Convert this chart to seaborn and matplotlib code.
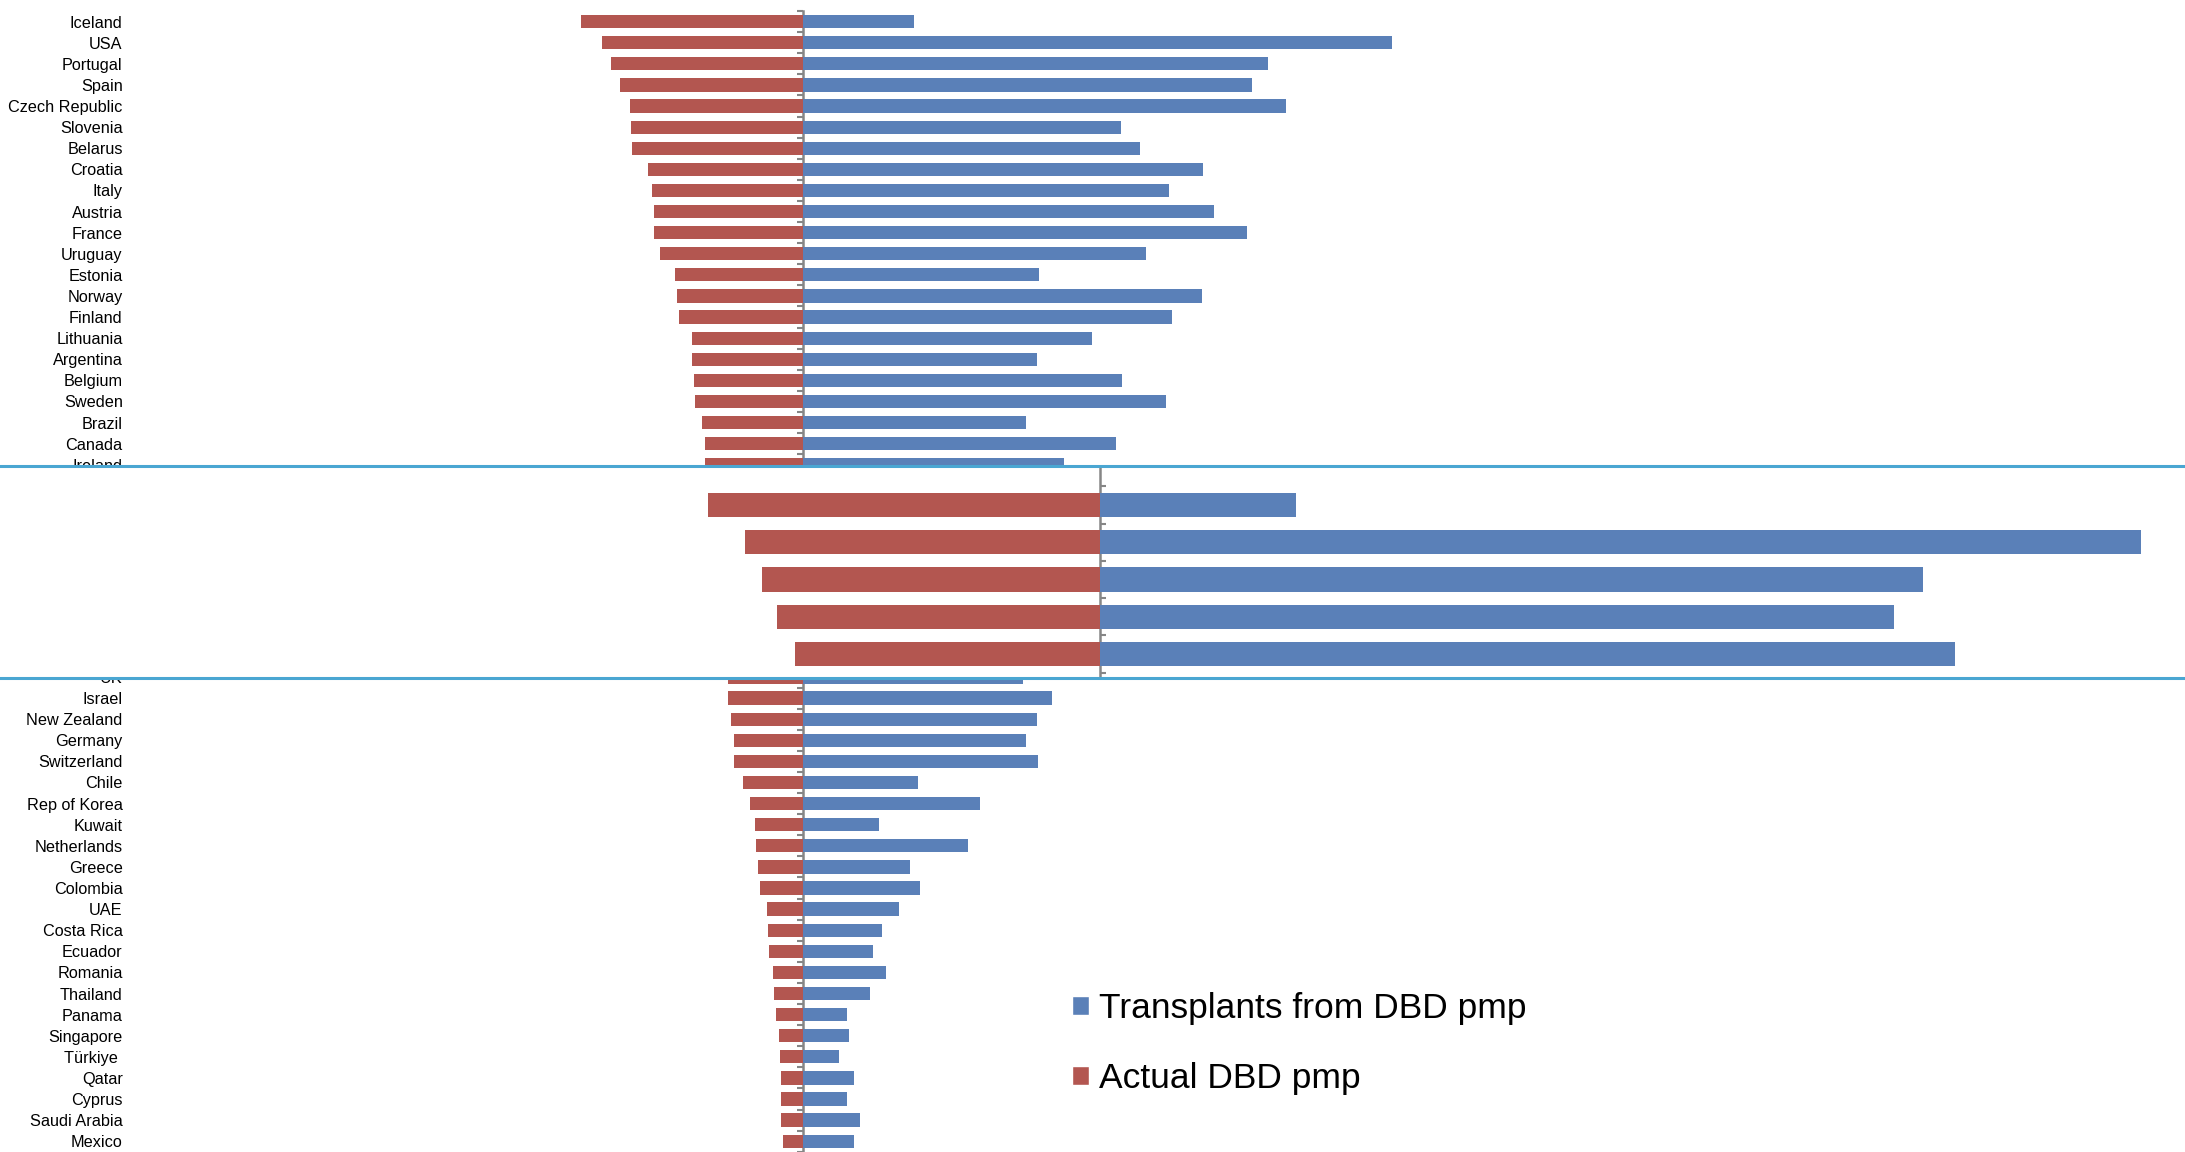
import matplotlib
matplotlib.use('Agg')
import matplotlib.pyplot as plt
import seaborn as sns
import pandas as pd
from matplotlib.patches import Patch

# países visíveis na parte de cima do gráfico
top_countries = ['Iceland', 'USA', 'Portugal', 'Spain', 'Czech Republic', 'Slovenia', 'Belarus',
                 'Croatia', 'Italy', 'Austria', 'France', 'Uruguay', 'Estonia', 'Norway', 'Finland',
                 'Lithuania', 'Argentina', 'Belgium', 'Sweden', 'Brazil', 'Canada', 'Ireland']
top_actual = [37.0, 33.5, 31.9, 30.5, 28.8, 28.6, 28.5, 25.7, 25.1, 24.8, 24.7, 23.8, 21.3, 21.0,
              20.6, 18.5, 18.4, 18.1, 18.0, 16.8, 16.3, 16.2]
top_transplants = [18.5, 98.2, 77.6, 74.9, 80.6, 53.0, 56.3, 66.8, 61.1, 68.5, 74.0, 57.2, 39.4,
                   66.6, 61.5, 48.2, 39.1, 53.2, 60.6, 37.3, 52.2, 43.6]

# países visíveis na parte de baixo
bottom_countries = ['UK', 'Israel', 'New Zealand', 'Germany', 'Switzerland', 'Chile', 'Rep of Korea',
                    'Kuwait', 'Netherlands', 'Greece', 'Colombia', 'UAE', 'Costa Rica', 'Ecuador',
                    'Romania', 'Thailand', 'Panama', 'Singapore', 'Türkiye ', 'Qatar', 'Cyprus',
                    'Saudi Arabia', 'Mexico']
bottom_actual = [12.4, 12.4, 12.0, 11.4, 11.4, 9.9, 8.8, 8.0, 7.7, 7.5, 7.1, 6.0, 5.7, 5.6, 5.0,
                 4.8, 4.5, 3.9, 3.7, 3.6, 3.6, 3.6, 3.3]
bottom_transplants = [36.7, 41.6, 39.0, 37.2, 39.3, 19.3, 29.5, 12.8, 27.6, 17.9, 19.5, 16.0, 13.2,
                      11.8, 13.9, 11.2, 7.4, 7.7, 6.0, 8.6, 7.4, 9.5, 8.6]

# zoom nos 5 primeiros
n_zoom = 5

BLUE = '#5A80B8'
RED = '#B35650'
GRAY = '#868686'
CYAN = '#4AA6D2'
lbl_blue = 'Transplants from DBD pmp'
lbl_red = 'Actual DBD pmp'

sns.set_style('white')
plt.rcParams['font.family'] = ['Liberation Sans', 'DejaVu Sans']


def monta_df(paises, actual, transp):
    d1 = pd.DataFrame({'pais': paises, 'valor': [-v for v in actual], 'serie': lbl_red})
    d2 = pd.DataFrame({'pais': paises, 'valor': transp, 'serie': lbl_blue})
    return pd.concat([d1, d2], ignore_index=True)


def desenha(ax, df, ordem, largura, ylim, labels=True):
    sns.barplot(data=df, x='valor', y='pais', hue='serie', order=ordem, dodge=False,
                palette={lbl_red: RED, lbl_blue: BLUE}, saturation=1, width=largura,
                errorbar=None, orient='h', linewidth=0, legend=False, ax=ax)
    ax.set_ylim(*ylim)
    ax.set_xlabel('')
    ax.set_ylabel('')
    ax.set_xticks([])
    for s in ax.spines.values():
        s.set_visible(False)
    ax.tick_params(axis='y', length=0, pad=6, labelsize=11.7, labelcolor='black')
    if not labels:
        ax.set_yticklabels([])
    # eixo vertical no zero com tracinhos entre as categorias
    x0, x1 = ax.get_xlim()
    sec = ax.secondary_yaxis(-x0 / (x1 - x0))
    sec.set_yticks([i - 0.5 for i in range(len(ordem) + 1)])
    sec.set_yticklabels([])
    sec.tick_params(axis='y', length=4, width=1.5, color=GRAY, direction='out')
    for s in sec.spines.values():
        s.set_color(GRAY)
        s.set_linewidth(1.8)
    return sec


fig = plt.figure(figsize=(21.85, 11.52), dpi=100)
W, H = 2185, 1152
left_px, zero_px, ppu = 131, 802.6, 6.0

# parte de cima
ax_top = fig.add_axes([left_px / W, 1 - 465 / H, 1 - left_px / W, (465 - 11.1) / H])
ax_top.set_xlim(-(zero_px - left_px) / ppu, (W - zero_px) / ppu)
desenha(ax_top, monta_df(top_countries, top_actual, top_transplants), top_countries, 0.63,
        ((465 - 11.1) / 21.1 - 0.5, -0.5))

# parte de baixo (UK fica meio escondido pela faixa)
uk_px = 677.0
ax_bot = fig.add_axes([left_px / W, 0, 1 - left_px / W, (H - 674) / H])
ax_bot.set_xlim(-(zero_px - left_px) / ppu, (W - zero_px) / ppu)
desenha(ax_bot, monta_df(bottom_countries, bottom_actual, bottom_transplants), bottom_countries,
        0.63, ((H - uk_px) / 21.1, (674 - uk_px) / 21.1))

# faixa ampliada no meio
ax_zoom = fig.add_axes([0, 1 - 678 / H, 1, 212 / H])
ax_zoom.set_zorder(5)
ax_zoom.set_facecolor('white')
zppu = ppu * 1.767
ax_zoom.set_xlim(-1100 / zppu, (W - 1100) / zppu)
zc = top_countries[:n_zoom]
sec = desenha(ax_zoom, monta_df(zc, top_actual[:n_zoom], top_transplants[:n_zoom]), zc, 0.65,
              ((678 - 505) / 37.25, (466 - 505) / 37.25), labels=False)
sec.spines['left'].set_bounds(-0.5, (678 - 505) / 37.25)
for lado in ['top', 'bottom']:
    ax_zoom.spines[lado].set_visible(True)
    ax_zoom.spines[lado].set_color(CYAN)
    ax_zoom.spines[lado].set_linewidth(2.2)

# legenda
handles = [Patch(facecolor=BLUE, label=lbl_blue), Patch(facecolor=RED, label=lbl_red)]
fig.legend(handles=handles, loc='upper left', bbox_to_anchor=(1072 / W, 1 - 992 / H),
           frameon=False, fontsize=25.5, handlelength=0.48, handleheight=0.48,
           handletextpad=0.28, labelspacing=1.05, borderpad=0, borderaxespad=0,
           labelcolor='black')

plt.savefig('out.png', dpi=100)
